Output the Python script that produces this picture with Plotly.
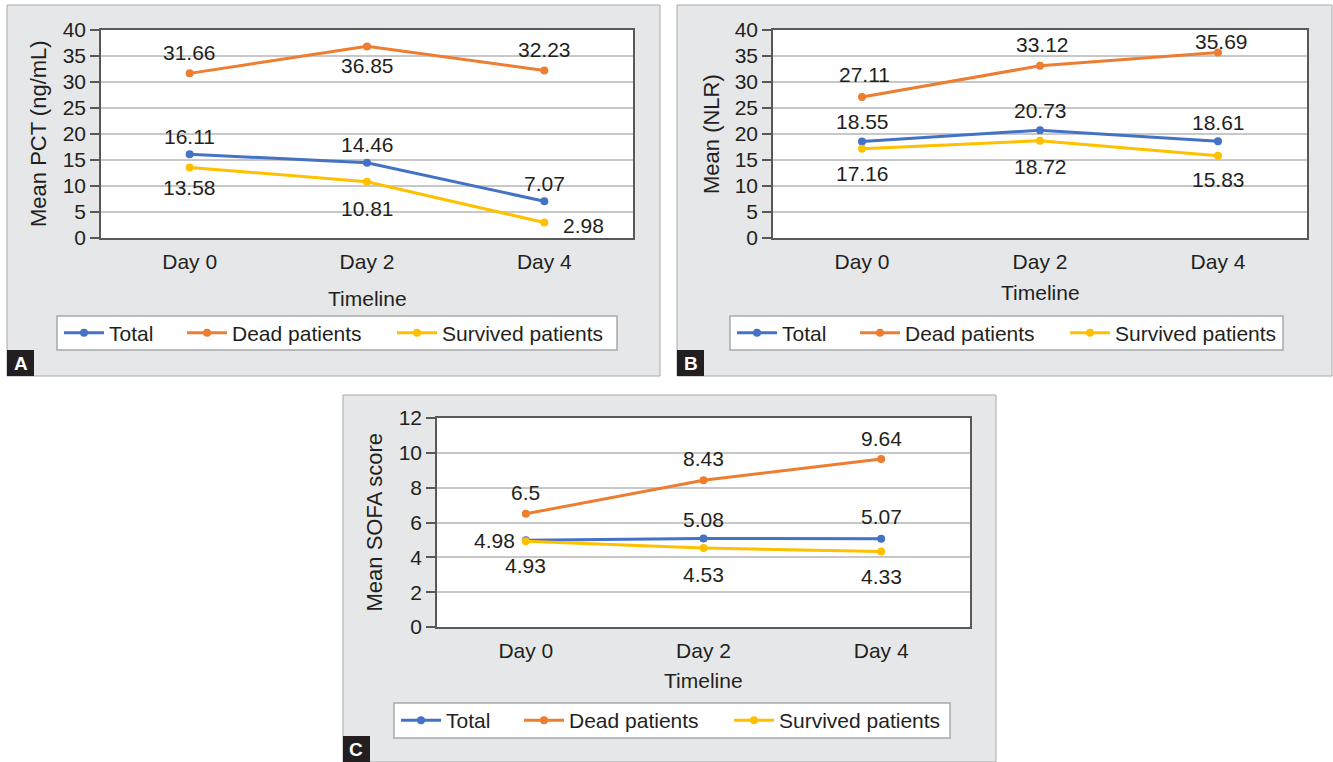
import plotly.graph_objects as go

W, H = 1333, 762

# ---- data ----
days = ["Day 0", "Day 2", "Day 4"]
series_names = ["Total", "Dead patients", "Survived patients"]
series_colors = ["#4472C4", "#ED7D31", "#FFC000"]

pct_total = [16.11, 14.46, 7.07]
pct_dead = [31.66, 36.85, 32.23]
pct_survived = [13.58, 10.81, 2.98]

nlr_total = [18.55, 20.73, 18.61]
nlr_dead = [27.11, 33.12, 35.69]
nlr_survived = [17.16, 18.72, 15.83]

sofa_total = [4.98, 5.08, 5.07]
sofa_dead = [6.5, 8.43, 9.64]
sofa_survived = [4.93, 4.53, 4.33]

y_titles = ["Mean PCT (ng/mL)", "Mean (NLR)", "Mean SOFA score"]
panel_letters = ["A", "B", "C"]
pct_ticks = [0, 5, 10, 15, 20, 25, 30, 35, 40]
nlr_ticks = [0, 5, 10, 15, 20, 25, 30, 35, 40]
sofa_ticks = [0, 2, 4, 6, 8, 10, 12]
x_title = "Timeline"

# ---- layout geometry (pixels) ----
FONT = "Liberation Sans, Arial, sans-serif"
INK = "#231f20"
FS = 21
LEGEND_WIDTHS = [68, 155, 170]

panels = [
    dict(series=[pct_total, pct_dead, pct_survived], ticks=pct_ticks,
         plot=(101, 30, 633, 238), box=(7, 5, 660, 376),
         legend_box=(57, 316, 617, 350), ytitle_x=38, xtitle_y=298,
         # label offsets (dx, dy) in px, dy up
         offsets=[[(0, 18), (0, 18), (0, 18)],
                  [(0, 21), (0, -19), (0, 21)],
                  [(0, -20), (0, -27), (39, -3)]]),
    dict(series=[nlr_total, nlr_dead, nlr_survived], ticks=nlr_ticks,
         plot=(773, 30, 1307, 238), box=(677, 5, 1332, 376),
         legend_box=(730, 316, 1283, 350), ytitle_x=711, xtitle_y=292,
         offsets=[[(0, 20), (0, 20), (0, 19)],
                  [(2, 23), (2, 21), (3, 11)],
                  [(0, -25), (0, -26), (0, -24)]]),
    dict(series=[sofa_total, sofa_dead, sofa_survived], ticks=sofa_ticks,
         plot=(437, 418, 970, 627), box=(343, 395, 996, 762),
         legend_box=(394, 703, 950, 738), ytitle_x=374, xtitle_y=680,
         offsets=[[(-31, 0), (0, 19), (0, 22)],
                  [(0, 21), (0, 22), (0, 21)],
                  [(0, -24), (0, -26), (0, -25)]]),
]


def px(x):
    return x / W


def py(y):
    return 1 - y / H


fig = go.Figure()
shapes = []
annotations = []
layout = {}

for i, p in enumerate(panels):
    n = "" if i == 0 else str(i + 1)
    xa, ya = "x" + n, "y" + n
    leg = "legend" + n
    l, t, r, b = p["plot"]
    bl, bt, br, bb = p["box"]
    ll, lt, lr, lb = p["legend_box"]

    # panel background, plot area, legend box, corner letter
    shapes.append(dict(type="rect", xref="paper", yref="paper", layer="below",
                       x0=px(bl), x1=px(br), y0=py(bb), y1=py(bt),
                       fillcolor="#e6e7e8", line=dict(color="#a7a9ac", width=1)))
    shapes.append(dict(type="rect", xref="paper", yref="paper", layer="below",
                       x0=px(l), x1=px(r), y0=py(b), y1=py(t),
                       fillcolor="white", line=dict(width=0)))
    shapes.append(dict(type="rect", xref="paper", yref="paper", layer="below",
                       x0=px(ll), x1=px(lr), y0=py(lb), y1=py(lt),
                       fillcolor="white", line=dict(color="#a7a9ac", width=1.5)))
    shapes.append(dict(type="rect", xref="paper", yref="paper", layer="below",
                       x0=px(bl), x1=px(bl + 27), y0=py(bb), y1=py(bb - 26),
                       fillcolor="#231f20", line=dict(width=0)))
    annotations.append(dict(text="<b>%s</b>" % panel_letters[i], xref="paper", yref="paper",
                            x=px(bl + 13.5), y=py(bb - 13), showarrow=False,
                            font=dict(family=FONT, size=19, color="white"),
                            xanchor="center", yanchor="middle"))

    for k, vals in enumerate(p["series"]):
        fig.add_trace(go.Scatter(
            x=days, y=vals, mode="lines+markers", name=series_names[k],
            line=dict(color=series_colors[k], width=3),
            marker=dict(color=series_colors[k], size=8),
            xaxis=xa, yaxis=ya, legend=leg,
            legendwidth=LEGEND_WIDTHS[k],
            hoverinfo="skip",
        ))
        for j, v in enumerate(vals):
            dx, dy = p["offsets"][k][j]
            annotations.append(dict(text="%g" % v, x=days[j], y=v, xref=xa, yref=ya,
                                    showarrow=False, xshift=dx, yshift=dy,
                                    font=dict(family=FONT, size=FS, color=INK),
                                    xanchor="center", yanchor="middle"))

    ticks = p["ticks"]
    layout["xaxis" + n] = dict(
        domain=[px(l), px(r)], anchor=ya, type="category",
        categoryorder="array", categoryarray=days, range=[-0.5, 2.5],
        showline=True, mirror=True, linecolor="#595959", linewidth=1.5,
        showgrid=False, zeroline=False, ticks="", ticklabelstandoff=4,
        tickfont=dict(family=FONT, size=FS, color=INK), fixedrange=True,
        automargin=False,
    )
    layout["yaxis" + n] = dict(
        domain=[py(b), py(t)], anchor=xa, range=[ticks[0], ticks[-1]],
        tickvals=ticks, showline=True, mirror=True, linecolor="#595959", linewidth=1.5,
        showgrid=True, gridcolor="#c8c8c8", gridwidth=1.5, zeroline=False,
        ticks="outside", ticklen=9, tickwidth=1.5, tickcolor="#595959",
        tickfont=dict(family=FONT, size=FS, color=INK), fixedrange=True,
        automargin=False,
    )
    layout[leg] = dict(
        orientation="h", x=px(ll + 2), y=py((lt + lb) / 2),
        xanchor="left", yanchor="middle", bgcolor="rgba(0,0,0,0)",
        borderwidth=0, font=dict(family=FONT, size=FS, color=INK),
        itemwidth=40,
    )

    annotations.append(dict(text=y_titles[i], xref="paper", yref="paper",
                            x=px(p["ytitle_x"]), y=py((t + b) / 2), textangle=-90,
                            showarrow=False, xanchor="center", yanchor="middle",
                            font=dict(family=FONT, size=22, color=INK)))
    annotations.append(dict(text=x_title, xref="paper", yref="paper",
                            x=px((l + r) / 2), y=py(p["xtitle_y"]),
                            showarrow=False, xanchor="center", yanchor="middle",
                            font=dict(family=FONT, size=FS, color=INK)))

fig.update_layout(
    width=W, height=H,
    margin=dict(l=0, r=0, t=0, b=0, autoexpand=False),
    paper_bgcolor="white", plot_bgcolor="rgba(0,0,0,0)",
    shapes=shapes, annotations=annotations, showlegend=True,
    font=dict(family=FONT, color=INK),
    **layout,
)

fig.write_html("out.html")
